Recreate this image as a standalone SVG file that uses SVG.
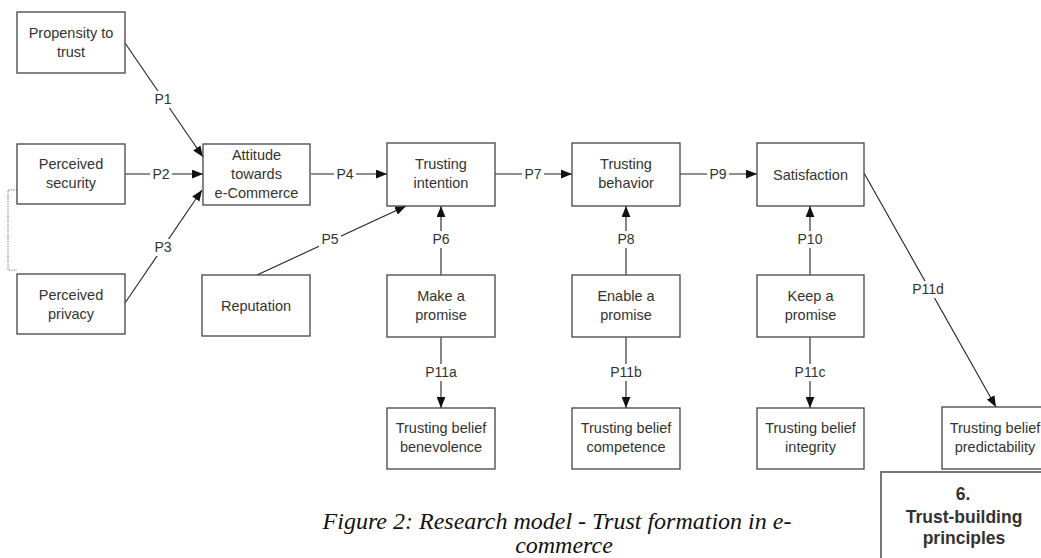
<svg xmlns="http://www.w3.org/2000/svg" width="1041" height="558" viewBox="0 0 1041 558">
<defs>
<style>
.box{fill:#fff;stroke:#444;stroke-width:1.3}
.t{font-family:"Liberation Sans",Arial,sans-serif;font-size:14.5px;fill:#333;text-anchor:middle}
.lb{font-family:"Liberation Sans",Arial,sans-serif;font-size:14px;fill:#333;text-anchor:middle}
.ln{stroke:#222;stroke-width:1.1;fill:none}
.bg{fill:#fff}
.cap{font-family:"Liberation Serif","Times New Roman",serif;font-style:italic;font-size:24px;fill:#111;text-anchor:middle}
.tb{font-family:"Liberation Sans",Arial,sans-serif;font-weight:bold;font-size:17.5px;fill:#333;text-anchor:middle}
</style>
<marker id="ah" viewBox="0 0 10 8" refX="10" refY="4" markerWidth="11" markerHeight="9" markerUnits="userSpaceOnUse" orient="auto">
<path d="M0,0 L10,4 L0,8 Z" fill="#111"/>
</marker>
</defs>
<rect width="1041" height="558" fill="#fff"/>

<g id="connectors">
<path class="ln" d="M125,43 L203,157" marker-end="url(#ah)"/>
<path class="ln" d="M125,174 L203,174" marker-end="url(#ah)"/>
<path class="ln" d="M125,303 L202,190" marker-end="url(#ah)"/>
<path class="ln" d="M311,174 L387,174" marker-end="url(#ah)"/>
<path class="ln" d="M257,275 L406,206" marker-end="url(#ah)"/>
<path class="ln" d="M441,275 L441,206" marker-end="url(#ah)"/>
<path class="ln" d="M495,174 L572,174" marker-end="url(#ah)"/>
<path class="ln" d="M626,275 L626,206" marker-end="url(#ah)"/>
<path class="ln" d="M680,174 L757,174" marker-end="url(#ah)"/>
<path class="ln" d="M810,275 L810,206" marker-end="url(#ah)"/>
<path class="ln" d="M864,173 L996,407" marker-end="url(#ah)"/>
<path class="ln" d="M441,337 L441,408" marker-end="url(#ah)"/>
<path class="ln" d="M626,337 L626,408" marker-end="url(#ah)"/>
<path class="ln" d="M810,337 L810,408" marker-end="url(#ah)"/>
<polyline points="17,190 8,190 8,270 17,270" fill="none" stroke="#999" stroke-width="1.5" stroke-dasharray="1.2,1.3"/>
<g id="labels">
<rect class="bg" x="152" y="91" width="22" height="17"/><text class="lb" x="163" y="104">P1</text>
<rect class="bg" x="150" y="166" width="22" height="17"/><text class="lb" x="161" y="179">P2</text>
<rect class="bg" x="152" y="239" width="22" height="17"/><text class="lb" x="163" y="252">P3</text>
<rect class="bg" x="334" y="166" width="22" height="17"/><text class="lb" x="345" y="179">P4</text>
<rect class="bg" x="319" y="231" width="22" height="17"/><text class="lb" x="330" y="244">P5</text>
<rect class="bg" x="430" y="231" width="22" height="17"/><text class="lb" x="441" y="244">P6</text>
<rect class="bg" x="522" y="166" width="22" height="17"/><text class="lb" x="533" y="179">P7</text>
<rect class="bg" x="615" y="231" width="22" height="17"/><text class="lb" x="626" y="244">P8</text>
<rect class="bg" x="707" y="166" width="22" height="17"/><text class="lb" x="718" y="179">P9</text>
<rect class="bg" x="795" y="231" width="30" height="17"/><text class="lb" x="810" y="244">P10</text>
<rect class="bg" x="910" y="281" width="36" height="17"/><text class="lb" x="928" y="294">P11d</text>
<rect class="bg" x="423" y="364" width="36" height="17"/><text class="lb" x="441" y="377">P11a</text>
<rect class="bg" x="608" y="364" width="36" height="17"/><text class="lb" x="626" y="377">P11b</text>
<rect class="bg" x="792" y="364" width="36" height="17"/><text class="lb" x="810" y="377">P11c</text>
</g>
</g>

<g id="n-propensity"><rect class="box" x="17" y="12" width="108" height="61"/><text class="t" x="71" y="38">Propensity to</text><text class="t" x="71" y="57">trust</text></g>
<g id="n-security"><rect class="box" x="17" y="144" width="108" height="60"/><text class="t" x="71" y="169">Perceived</text><text class="t" x="71" y="188">security</text></g>
<g id="n-privacy"><rect class="box" x="17" y="274" width="108" height="60"/><text class="t" x="71" y="300">Perceived</text><text class="t" x="71" y="319">privacy</text></g>
<g id="n-attitude"><rect class="box" x="203" y="144" width="107" height="61"/><text class="t" x="256.5" y="160">Attitude</text><text class="t" x="256.5" y="179">towards</text><text class="t" x="256.5" y="198">e-Commerce</text></g>
<g id="n-reputation"><rect class="box" x="202" y="275" width="108" height="61"/><text class="t" x="256" y="311">Reputation</text></g>
<g id="n-intention"><rect class="box" x="387" y="143" width="108" height="63"/><text class="t" x="441" y="169">Trusting</text><text class="t" x="441" y="188">intention</text></g>
<g id="n-behavior"><rect class="box" x="572" y="143" width="108" height="63"/><text class="t" x="626" y="169">Trusting</text><text class="t" x="626" y="188">behavior</text></g>
<g id="n-satisfaction"><rect class="box" x="757" y="143" width="107" height="63"/><text class="t" x="810.5" y="180">Satisfaction</text></g>
<g id="n-make"><rect class="box" x="387" y="275" width="108" height="62"/><text class="t" x="441" y="301">Make a</text><text class="t" x="441" y="320">promise</text></g>
<g id="n-enable"><rect class="box" x="572" y="275" width="108" height="62"/><text class="t" x="626" y="301">Enable a</text><text class="t" x="626" y="320">promise</text></g>
<g id="n-keep"><rect class="box" x="757" y="275" width="107" height="62"/><text class="t" x="810.5" y="301">Keep a</text><text class="t" x="810.5" y="320">promise</text></g>
<g id="n-benevolence"><rect class="box" x="387" y="408" width="108" height="61"/><text class="t" x="441" y="433">Trusting belief</text><text class="t" x="441" y="452">benevolence</text></g>
<g id="n-competence"><rect class="box" x="572" y="408" width="108" height="61"/><text class="t" x="626" y="433">Trusting belief</text><text class="t" x="626" y="452">competence</text></g>
<g id="n-integrity"><rect class="box" x="757" y="408" width="107" height="61"/><text class="t" x="810.5" y="433">Trusting belief</text><text class="t" x="810.5" y="452">integrity</text></g>
<g id="n-trustbuilding"><rect x="881" y="472" width="200" height="120" fill="#fff" stroke="#777" stroke-width="2"/><text class="tb" x="963" y="500">6.</text><text class="tb" x="964" y="523">Trust-building</text><text class="tb" x="964" y="544">principles</text></g>
<g id="n-predictability"><rect class="box" x="942" y="407" width="108" height="62"/><text class="t" x="995" y="433">Trusting belief</text><text class="t" x="995" y="452">predictability</text></g>

<g id="caption"><text class="cap" x="557" y="529">Figure 2: Research model - Trust formation in e-</text><text class="cap" x="564" y="553">commerce</text></g>
</svg>
